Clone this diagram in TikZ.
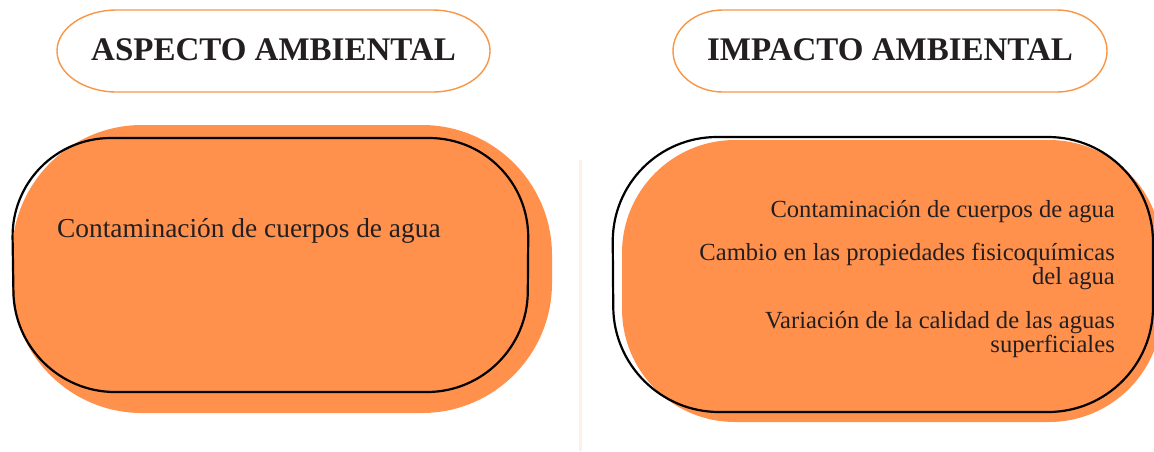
\documentclass[tikz,border=0pt]{standalone}
\usepackage{fontspec}
\setmainfont{Liberation Serif}
\definecolor{orangefill}{RGB}{255,145,77}
\definecolor{hdrline}{RGB}{248,150,70}
\definecolor{txt}{RGB}{35,31,32}
\definecolor{divider}{RGB}{254,240,228}
\tikzset{
  hdrbox/.style={draw=hdrline, line width=1.4pt},
  blob/.style={fill=orangefill, draw=none},
  outline/.style={draw=black, line width=2.2pt},
  hdrtext/.style={font=\fontsize{33}{36}\selectfont\bfseries, text=txt, inner sep=0pt},
  bodytext/.style={font=\fontsize{27.4}{30}\selectfont, text=txt, inner sep=0pt},
  itemtext/.style={font=\fontsize{24.6}{22}\selectfont, text=txt, inner sep=0pt, anchor=base east, align=right},
}
\begin{document}
\begin{tikzpicture}[x=1pt,y=-1pt]
\useasboundingbox (0,0) rectangle (1154,451);
\clip (0,0) rectangle (1154,451);

% divider
\draw[divider, line width=3pt] (580,160) -- (580,451);

% header ovals
\draw[hdrbox] (117,10) -- (433,10) arc[start angle=-90,end angle=90,x radius=57,y radius=41]
  -- (117,92) arc[start angle=90,end angle=270,x radius=60,y radius=41] -- cycle;
\draw[hdrbox] (723,10) -- (1057,10) arc[start angle=-90,end angle=90,x radius=50,y radius=41]
  -- (723,92) arc[start angle=90,end angle=270,x radius=50,y radius=41] -- cycle;
\node[hdrtext, anchor=base] (h1) at (273.5,60) {ASPECTO AMBIENTAL};
\node[hdrtext, anchor=base] (h2) at (890,60) {IMPACTO AMBIENTAL};

% left panel
\fill[blob, rounded corners=130pt] (12,125) rectangle (552,413);
\draw[outline, rounded corners=100pt] (11,138) -- (529,138) -- (527,392) -- (15,392) -- cycle;
\node[bodytext, anchor=base west] (a1) at (57,237) {Contaminación de cuerpos de agua};

% right panel
\fill[blob, rounded corners=113pt] (622,140) rectangle (1162,422);
\draw[outline, rounded corners=105pt] (612,137) -- (1153,137) -- (1153,412) -- (614,412) -- cycle;
\node[itemtext] (i1) at (1115,217) {Contaminación de cuerpos de agua};
\node[itemtext] (i2) at (1115,284) {Cambio en las propiedades fisicoquímicas\\del agua};
\node[itemtext] (i3) at (1115,352) {Variación de la calidad de las aguas\\superficiales};
\end{tikzpicture}
\end{document}
